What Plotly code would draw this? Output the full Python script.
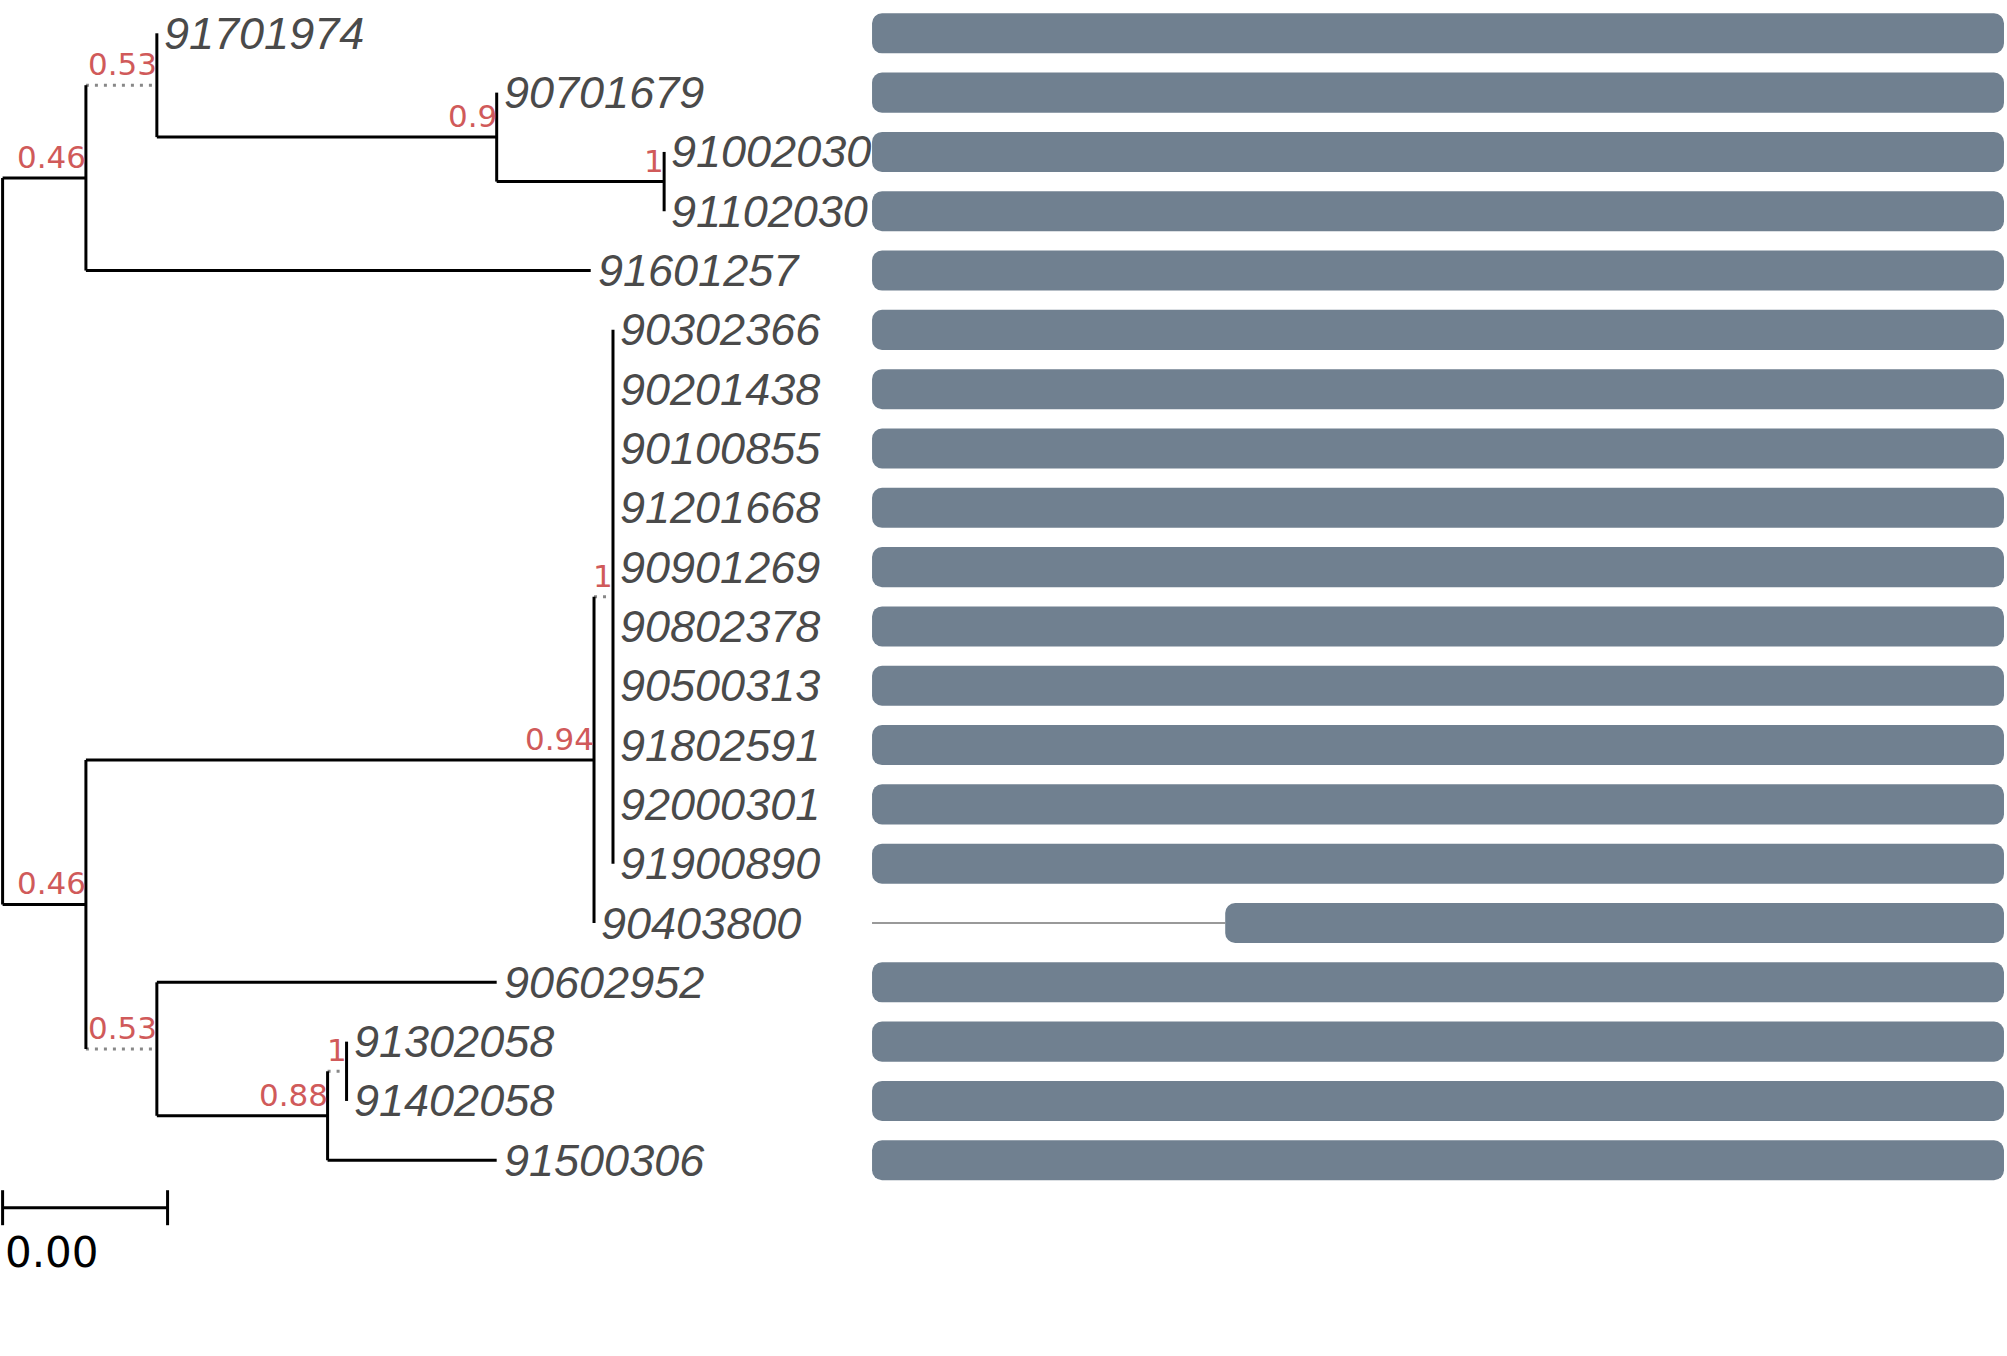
import plotly.graph_objects as go

# leaf order, top to bottom
leaves = ['91701974', '90701679', '91002030', '91102030', '91601257',
          '90302366', '90201438', '90100855', '91201668', '90901269',
          '90802378', '90500313', '91802591', '92000301', '91900890',
          '90403800', '90602952', '91302058', '91402058', '91500306']

# tree edges: child, parent, branch length, support of the child clade
child = ['n1', 'n2', 'n3', '91601257', '91701974', 'n4', '90701679', 'n5',
         '91002030', '91102030', 'n6', 'n7', '90302366', '90201438', '90100855',
         '91201668', '90901269', '90802378', '90500313', '91802591', '92000301',
         '91900890', '90403800', 'n8', '90602952', 'n9', 'n10', '91302058',
         '91402058', '91500306']
parent = ['root', 'root', 'n1', 'n1', 'n3', 'n3', 'n4', 'n4',
          'n5', 'n5', 'n2', 'n6', 'n7', 'n7', 'n7',
          'n7', 'n7', 'n7', 'n7', 'n7', 'n7',
          'n7', 'n6', 'n2', 'n8', 'n8', 'n9', 'n10',
          'n10', 'n9']
blen = [0.00101, 0.00101, 0.00086, 0.00612, 0.0, 0.00412, 0.0, 0.00203,
        0.0, 0.0, 0.00616, 0.00023, 0.0, 0.0, 0.0,
        0.0, 0.0, 0.0, 0.0, 0.0, 0.0,
        0.0, 0.0, 0.00086, 0.00412, 0.00207, 0.00023, 0.0,
        0.0, 0.00205]
support = {'n1': 0.46, 'n2': 0.46, 'n3': 0.53, 'n4': 0.9, 'n5': 1,
           'n6': 0.94, 'n7': 1, 'n8': 0.53, 'n9': 0.88, 'n10': 1}
dotted = ['n3', 'n7', 'n8', 'n10']

# alignment coverage per leaf
aln_len = 1500
aln_start = [0, 0, 0, 0, 0, 0, 0, 0, 0, 0, 0, 0, 0, 0, 0, 468, 0, 0, 0, 0]
aln_end = [1500, 1500, 1500, 1500, 1500, 1500, 1500, 1500, 1500, 1500,
           1500, 1500, 1500, 1500, 1500, 1500, 1500, 1500, 1500, 1500]

scale_len = 0.002

children = {}
for c, p in zip(child, parent):
    children.setdefault(p, []).append(c)
length = dict(zip(child, blen))
xpos = {'root': 0.0}
ypos = {}


def place(node):
    for c in children.get(node, []):
        xpos[c] = xpos[node] + length[c]
        place(c)
    if node in children:
        ypos[node] = (ypos[children[node][0]] + ypos[children[node][-1]]) / 2
    else:
        ypos[node] = leaves.index(node)


place('root')

sx, sy, dx, dy = [], [], [], []
for node, kids in children.items():
    sx += [xpos[node], xpos[node], None]
    sy += [ypos[kids[0]], ypos[kids[-1]], None]
for c, p in zip(child, parent):
    if length[c] <= 0:
        continue
    if c in dotted:
        dx += [xpos[p], xpos[c], None]
        dy += [ypos[c], ypos[c], None]
    else:
        sx += [xpos[p], xpos[c], None]
        sy += [ypos[c], ypos[c], None]

fig = go.Figure()

# gaps before the aligned block
gx, gy = [], []
for i, s in enumerate(aln_start):
    if s > 0:
        gx += [0, s, None]
        gy += [i, i, None]
fig.add_trace(go.Scatter(x=gx, y=gy, mode='lines', xaxis='x2', yaxis='y',
                         line=dict(color='#777777', width=1.5), hoverinfo='skip'))
fig.add_trace(go.Bar(y=list(range(len(leaves))),
                     x=[e - s for s, e in zip(aln_start, aln_end)],
                     base=aln_start, orientation='h', width=0.675,
                     xaxis='x2', yaxis='y',
                     marker=dict(color='#708090', line=dict(width=0), cornerradius=10)))

fig.add_trace(go.Scatter(x=dx, y=dy, mode='lines',
                         line=dict(color='#888888', width=3, dash='3px,6px'), hoverinfo='skip'))
fig.add_trace(go.Scatter(x=sx, y=sy, mode='lines',
                         line=dict(color='black', width=3), hoverinfo='skip'))

# scale bar
yb = len(leaves) - 0.2
fig.add_trace(go.Scatter(x=[0, scale_len, None, 0, 0, None, scale_len, scale_len],
                         y=[yb, yb, None, yb - 0.295, yb + 0.295, None, yb - 0.295, yb + 0.295],
                         mode='lines', line=dict(color='black', width=3), hoverinfo='skip'))

ann = []
for name in leaves:
    ann.append(dict(x=xpos[name], y=ypos[name], text=name, showarrow=False,
                    xanchor='left', yanchor='middle', xshift=5,
                    font=dict(family='Liberation Sans, Arial', size=45,
                              color='#4a4a4a', style='italic')))
for node, s in support.items():
    ann.append(dict(x=xpos[node], y=ypos[node], text=f'{s:g}', showarrow=False,
                    xanchor='right', yanchor='bottom', xshift=2, yshift=1,
                    font=dict(family='DejaVu Sans', size=31, color='#d05a5a')))
ann.append(dict(x=0, y=yb, text=f'{scale_len:.2f}', showarrow=False,
                xanchor='left', yanchor='top', yshift=-18, xshift=0,
                font=dict(family='DejaVu Sans', size=42, color='black')))

fig.update_layout(
    width=2007, height=1356,
    margin=dict(l=0, r=0, t=0, b=0),
    paper_bgcolor='white', plot_bgcolor='rgba(0,0,0,0)',
    showlegend=False,
    annotations=ann,
    xaxis=dict(domain=[0, 1], range=[-0.0000315, 0.0243], visible=False),
    xaxis2=dict(domain=[0.4345, 0.9985], range=[0, aln_len], anchor='y', visible=False),
    yaxis=dict(domain=[0, 1], range=[22.30, -0.5615], visible=False),
)

fig.write_html('out.html', config={'displayModeBar': False},
               post_script="document.body.style.margin='0px';")
